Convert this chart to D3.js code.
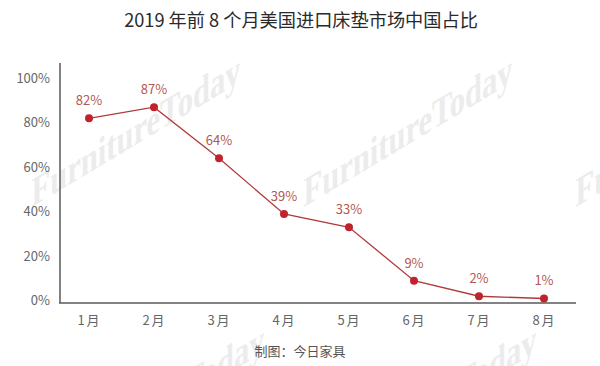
<!DOCTYPE html>
<html><head><meta charset="utf-8">
<script src="https://cdn.jsdelivr.net/npm/d3@7"></script>
<style>body{margin:0;background:#fff}svg{display:block}</style>
</head><body>
<svg id="c" width="600" height="366"></svg>
<script>
const title = "2019 年前 8 个月美国进口床垫市场中国占比";
const months = ["1月","2月","3月","4月","5月","6月","7月","8月"];
const shares = [82, 87, 64, 39, 33, 9, 2, 1];
const yTicks = [0, 20, 40, 60, 80, 100];
const source = "制图：今日家具";
const watermark = "FurnitureToday";

const svg = d3.select("#c");
const font = "'Noto Sans CJK SC','Noto Sans',sans-serif";

// watermarks
const wmPos = [[136,135],[408,135],[680,135],[160,405],[432,405]];
svg.append("g").selectAll("text").data(wmPos).join("text")
  .attr("transform", d => `translate(${d[0]},${d[1]}) skewY(-31) scale(0.85,1.15)`)
  .attr("text-anchor","middle").attr("dominant-baseline","middle")
  .attr("font-family","'Liberation Serif',serif").attr("font-weight","bold")
  .attr("font-size",36).attr("fill","#ececec").text(watermark);

const x = d3.scalePoint().domain(months).range([89, 544]);
const y = d3.scaleLinear().domain([0, 100]).range([300.7, 78.3]);

svg.append("text").attr("x",301).attr("y",27).attr("text-anchor","middle")
  .attr("font-family",font).attr("font-size",18.2).attr("fill","#2a2a2a").text(title);

// y axis
const ya = svg.append("g").attr("transform","translate(60,0)")
  .call(d3.axisLeft(y).tickValues(yTicks).tickFormat(d => d + "%").tickSize(0).tickPadding(10));
ya.select(".domain").remove();
ya.selectAll("text").attr("font-family",font).attr("font-size",13).attr("fill","#666");
svg.append("line").attr("x1",60).attr("x2",60).attr("y1",63).attr("y2",303)
  .attr("stroke","#5a5a5a").attr("stroke-width",1.5);

// x axis
const xa = svg.append("g").attr("transform","translate(0,303)")
  .call(d3.axisBottom(x).tickSize(0).tickPadding(13));
xa.select(".domain").remove();
xa.selectAll("text").attr("font-family",font).attr("font-size",13).attr("fill","#666")
  .attr("letter-spacing","2px");
svg.append("line").attr("x1",59).attr("x2",576).attr("y1",303).attr("y2",303)
  .attr("stroke","#5a5a5a").attr("stroke-width",1.5);

const data = months.map((m,i) => ({m, v: shares[i]}));
svg.append("path").datum(data)
  .attr("d", d3.line().x(d => x(d.m)).y(d => y(d.v)))
  .attr("fill","none").attr("stroke","#b03a3a").attr("stroke-width",1.3);
svg.append("g").selectAll("circle").data(data).join("circle")
  .attr("cx", d => x(d.m)).attr("cy", d => y(d.v)).attr("r",4).attr("fill","#c0232b");
svg.append("g").selectAll("text").data(data).join("text")
  .attr("x", d => x(d.m)).attr("y", d => y(d.v) - 13)
  .attr("text-anchor","middle").attr("font-family",font).attr("font-size",13)
  .attr("fill","#b5574f").text(d => d.v + "%");

svg.append("text").attr("x",300).attr("y",356).attr("text-anchor","middle")
  .attr("font-family",font).attr("font-size",13).attr("fill","#555").text(source);
</script>
</body></html>
